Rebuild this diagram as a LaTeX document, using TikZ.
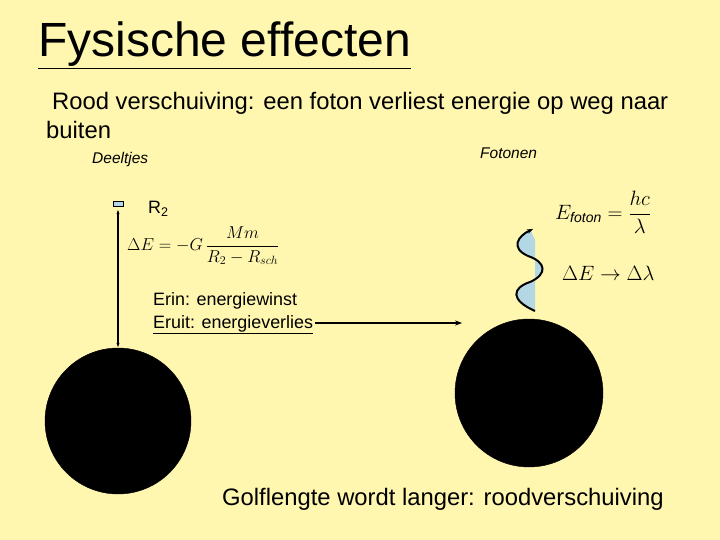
\documentclass[tikz,border=0pt]{standalone}
\usepackage{fontspec}
\setmainfont{Liberation Sans}
\usetikzlibrary{arrows.meta}
\begin{document}
\begin{tikzpicture}[x=1pt,y=-1pt,
  txt/.style={anchor=base west,inner sep=0pt,font=\fontsize{23.8}{28}\selectfont},
  small/.style={anchor=base west,inner sep=0pt,font=\fontsize{15.5}{18}\selectfont\itshape},
  lbl/.style={anchor=base west,inner sep=0pt,font=\fontsize{17.9}{21}\selectfont},
  ball/.style={fill=black,draw=black}]
\fill[fill={rgb,255:red,255;green,247;blue,176}] (0,0) rectangle (720,540);
\useasboundingbox (0,0) rectangle (720,540);
\node[anchor=base west,inner sep=0pt,font=\fontsize{48}{52}\selectfont] (title) at (38,57) {\underline{Fysische effecten}};
\node[txt] (t1) at (52,110) {Rood verschuiving: een foton verliest energie op weg naar};
\node[txt] (t2) at (46,139) {buiten};
\node[small] (d) at (92,164) {Deeltjes};
\node[small] (f) at (480,159) {Fotonen};
\node[draw=black,fill={rgb,255:red,180;green,215;blue,230},minimum width=10pt,minimum height=5pt,inner sep=0pt] (box) at (118,204) {};
\node[lbl] (r2) at (148,214) {R\textsubscript{2}};
\node[anchor=west,inner sep=0pt,font=\fontsize{17}{20}\selectfont] (eq1) at (127,246) {$\Delta E=-G\,\displaystyle\frac{Mm}{R_2-R_{sch}}$};
\node[lbl] (e1) at (153,305) {Erin: energiewinst};
\node[lbl] (e2) at (153,328) {\underline{Eruit: energieverlies}};
\fill[ball] (118,421) circle (73);
\fill[ball] (529,393) circle (74);
\coordinate (lt) at (118,210);
\coordinate (lb) at (118,347);
\draw[line width=2pt,{Stealth[length=4pt]}-{Stealth[length=4pt]}] (lt) -- (lb);
\coordinate (a1) at (315,323);
\coordinate (a2) at (462,323);
\draw[line width=1.3pt,-{Stealth[length=7pt]}] (a1) -- (a2);
\fill[fill={rgb,255:red,180;green,215;blue,230}] (535,311) .. controls (510,300) and (512,288) .. (530,282) .. controls (548,274) and (546,262) .. (528,256) .. controls (510,248) and (518,236) .. (531,231) -- (535,240) -- cycle;
\draw[line width=2pt,-{Stealth[length=6pt]}] (535,311) .. controls (510,300) and (512,288) .. (530,282) .. controls (548,274) and (546,262) .. (528,256) .. controls (510,248) and (518,236) .. (533,229);
\node[anchor=west,inner sep=0pt,font=\fontsize{20}{24}\selectfont] (ef) at (555,212) {$E_{\mathit{foton}}=\displaystyle\frac{hc}{\lambda}$};
\node[anchor=west,inner sep=0pt,font=\fontsize{20}{24}\selectfont] (de) at (562,273) {$\Delta E\rightarrow\Delta\lambda$};
\node[txt] (g) at (222,505) {Golflengte wordt langer: roodverschuiving};
\end{tikzpicture}
\end{document}
